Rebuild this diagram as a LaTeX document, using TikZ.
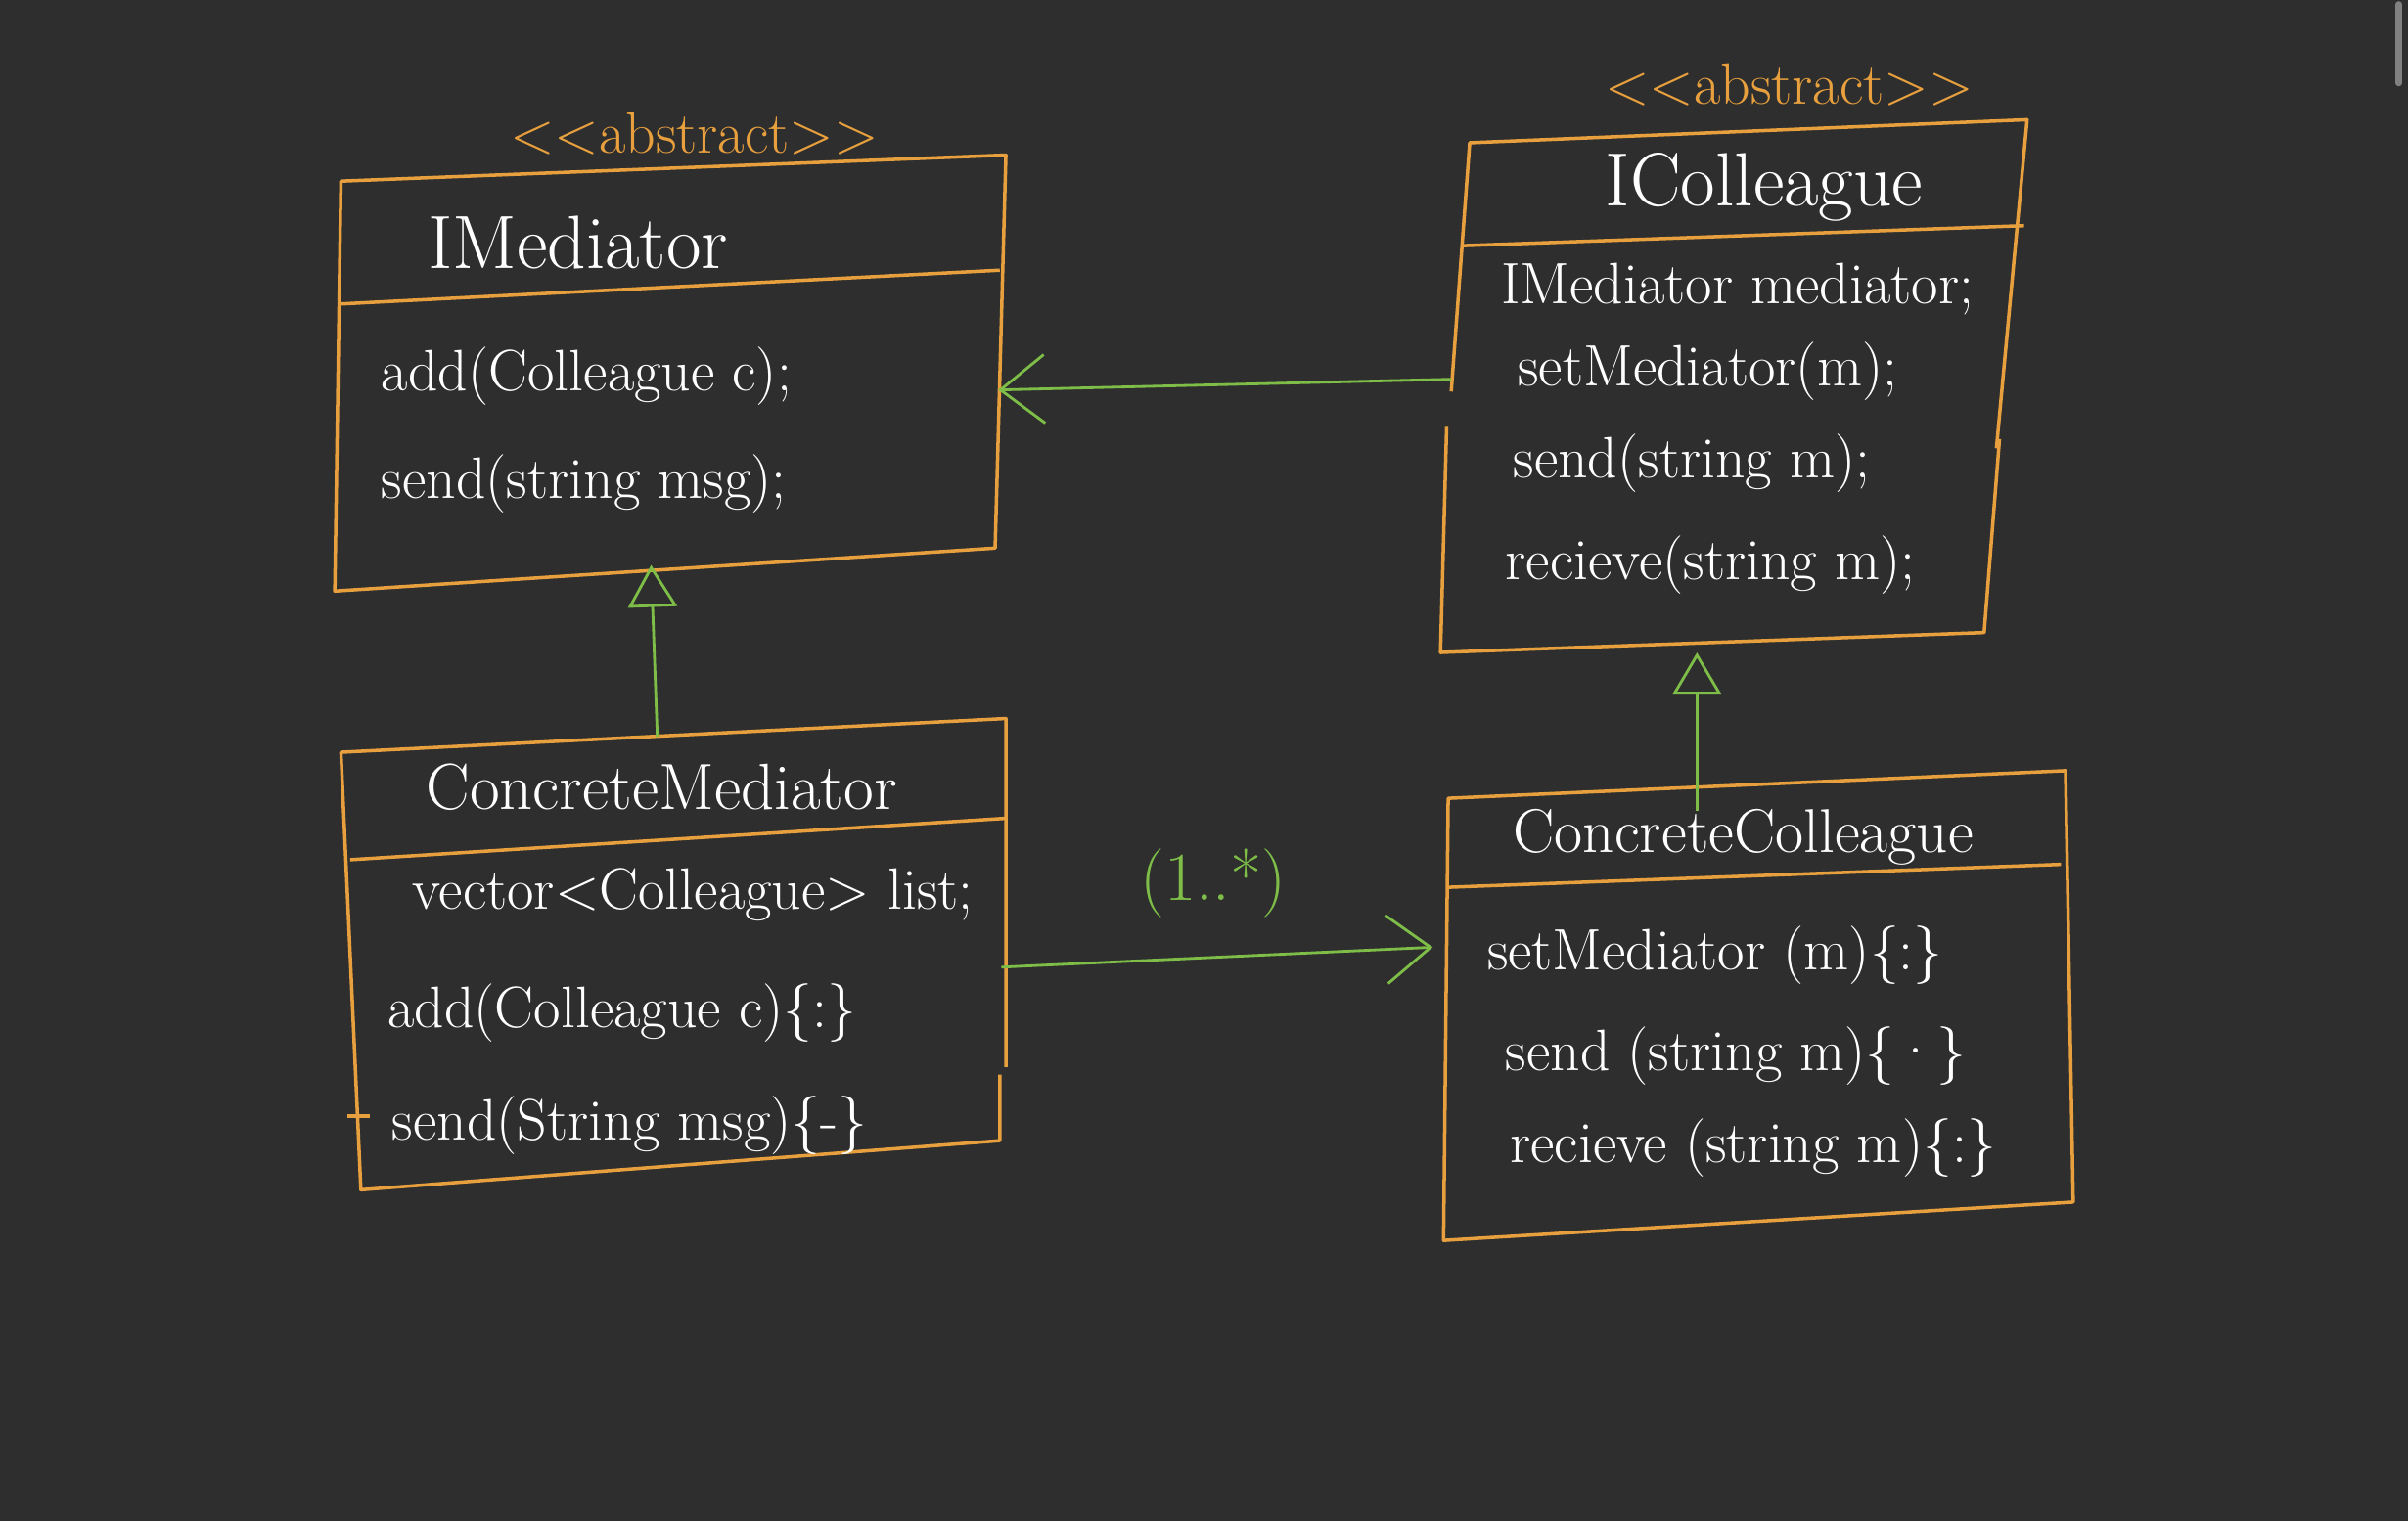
\documentclass[tikz,border=0pt]{standalone}
\usetikzlibrary{arrows.meta}
\definecolor{fundo}{RGB}{46,46,46}
\definecolor{laranja}{RGB}{232,160,62}
\definecolor{verde}{RGB}{126,190,72}

\begin{document}
\begin{tikzpicture}[x=0.15695mm, y=-0.15695mm,
    caixa/.style={laranja, line width=1pt, line join=round},
    linha/.style={white, anchor=west, inner sep=0pt, font=\fontsize{17}{20}\selectfont},
    titulo/.style={white, anchor=west, inner sep=0pt, font=\fontsize{19}{23}\selectfont},
    rotulo/.style={laranja, inner sep=0pt, font=\fontsize{17}{20}\selectfont},
    seta/.style={verde, line width=0.8pt, -{Straight Barb[length=4.5mm,width=7mm]}},
    heranca/.style={verde, line width=0.8pt, -{Triangle[open,length=4.3mm,width=5mm]}}]
    % Desenha o fundo
    \fill[fundo] (0,0) rectangle (1568,991);
    \draw[gray, line width=2pt, line cap=round] (1562,3) -- (1562,54);

    % IMediator
    \node[rotulo] (absmed) at (452,87) {<{}<abstract>{}>};
    \draw[caixa] (222,118) -- (655,101) -- (648,357) -- (218,385) -- cycle;
    \draw[caixa] (222,198) -- (651,176);
    \node[titulo, font=\fontsize{22}{26}\selectfont] (imed) at (278,158) {IMediator};
    \node[linha] (imed1) at (248,245) {add(Colleague c);};
    \node[linha] (imed2) at (248,315) {send(string msg);};
    \coordinate (imeddir) at (650,254);
    \coordinate (imedbaixo) at (424,368);

    % IColleague
    \node[rotulo] (abscol) at (1165,55) {<{}<abstract>{}>};
    \draw[caixa] (945,255) -- (957,93) -- (1320,78) -- (1300,292);
    \draw[caixa] (1302,286) -- (1292,412) -- (938,425) -- (942,278);
    \draw[caixa] (953,160) -- (1318,147);
    \node[titulo, font=\fontsize{22}{26}\selectfont] (icol) at (1045,122) {IColleague};
    \node[linha] (icol1) at (977,188) {IMediator mediator;};
    \node[linha] (icol2) at (988,242) {setMediator(m);};
    \node[linha] (icol3) at (985,302) {send(string m);};
    \node[linha] (icol4) at (980,368) {recieve(string m);};
    \coordinate (icolesq) at (945,247);
    \coordinate (icolbaixo) at (1105,425);

    % ConcreteMediator
    \draw[caixa] (655,695) -- (655,468) -- (222,490) -- (235,775) -- (651,743) -- (651,700);
    \draw[caixa] (228,560) -- (655,533);
    \draw[caixa] (226,727) -- (241,727);
    \node[titulo] (cmed) at (277,513) {ConcreteMediator};
    \node[linha] (cmed1) at (268,583) {vector<Colleague> list;};
    \node[linha] (cmed2) at (252,660) {add(Colleague c)\{:\}};
    \node[linha] (cmed3) at (255,733) {send(String msg)\{-\}};
    \coordinate (cmedtopo) at (428,480);
    \coordinate (cmeddir) at (652,630);

    % ConcreteColleague
    \draw[caixa] (943,520) -- (1345,502) -- (1350,783) -- (940,808) -- cycle;
    \draw[caixa] (942,578) -- (1342,563);
    \node[titulo, font=\fontsize{18}{22}\selectfont] (ccol) at (985,545) {ConcreteColleague};
    \node[linha] (ccol1) at (968,622) {setMediator (m)\{:\}};
    \node[linha] (ccol2) at (980,688) {send (string m)\{·\}};
    \node[linha] (ccol3) at (983,748) {recieve (string m)\{:\}};
    \coordinate (ccoltopo) at (1105,528);
    \coordinate (ccolesq) at (933,617);

    % Ligacoes
    \draw[seta] (icolesq) -- (imeddir);
    \draw[seta] (cmeddir) -- (ccolesq);
    \node[verde, inner sep=0pt, font=\fontsize{20}{24}\selectfont] (mult) at (790,575) {(1..*)};
    \draw[heranca] (cmedtopo) -- (imedbaixo);
    \draw[heranca] (ccoltopo) -- (icolbaixo);
\end{tikzpicture}
\end{document}
